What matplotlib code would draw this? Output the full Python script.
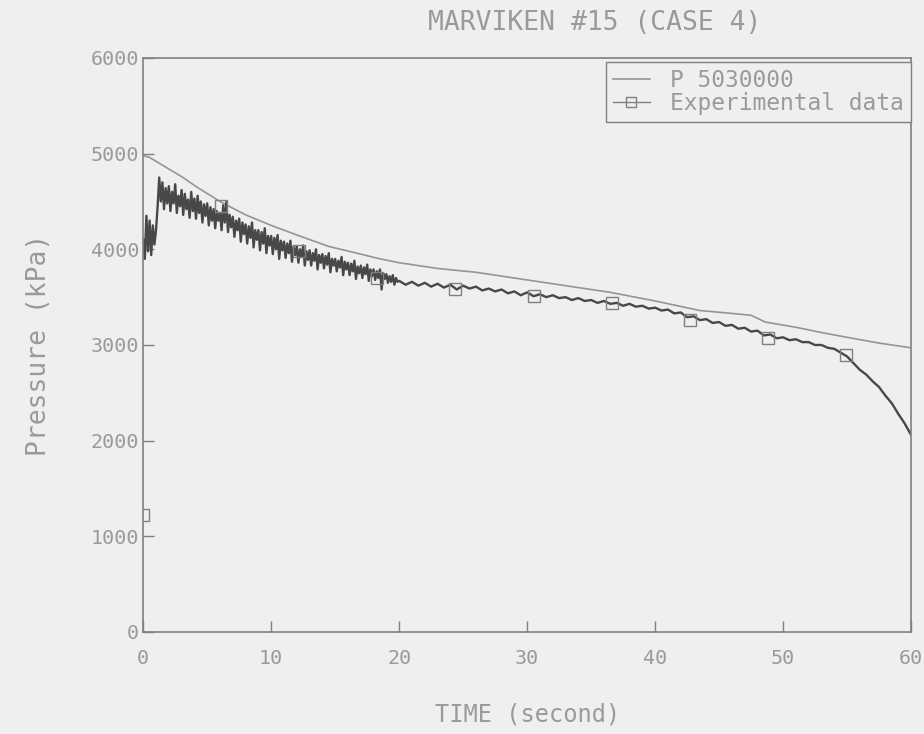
import numpy as np
import matplotlib
matplotlib.use("Agg")
import matplotlib.pyplot as plt
from matplotlib.lines import Line2D

# --- simulation (P 5030000) ---
t_sim = [0, 0.5, 1.5, 3, 4.2, 6, 8, 10, 12, 14.5, 17, 18.5, 20, 23, 26, 29,
         32.5, 36.5, 40, 43.5, 46, 47.5, 48.6, 51, 53, 55, 57.5, 60]
p_sim = [4980, 4960, 4880, 4760, 4650, 4500, 4360, 4250, 4150, 4030, 3950,
         3900, 3860, 3800, 3760, 3700, 3630, 3550, 3460, 3360, 3330, 3310,
         3240, 3185, 3130, 3080, 3020, 2970]

# --- experimental trace: 0.125 s samples up to 20 s (one row per second) ---
t_exp_a = np.arange(0, 20, 0.125)
p_exp_a = [4100, 3900, 4350, 3980, 4300, 3940, 4250, 4050,
           4200, 4450, 4750, 4500, 4700, 4420, 4640, 4480,
           4660, 4400, 4600, 4480, 4680, 4380, 4560, 4450,
           4620, 4360, 4580, 4420, 4520, 4330, 4600, 4400,
           4530, 4320, 4560, 4380, 4500, 4280, 4470, 4350,
           4480, 4250, 4440, 4300, 4420, 4220, 4400, 4300,
           4380, 4200, 4460, 4280, 4500, 4180, 4360, 4230,
           4340, 4130, 4300, 4200, 4320, 4080, 4280, 4160,
           4260, 4060, 4240, 4120, 4280, 4020, 4200, 4100,
           4200, 3990, 4180, 4060, 4220, 3960, 4140, 4040,
           4140, 3950, 4120, 4000, 4150, 3900, 4090, 3990,
           4080, 3910, 4060, 3960, 4090, 3870, 4030, 3940,
           4030, 3860, 4000, 3920, 4040, 3830, 3980, 3890,
           3990, 3830, 3960, 3880, 4000, 3790, 3940, 3860,
           3950, 3800, 3930, 3840, 3960, 3760, 3900, 3830,
           3900, 3770, 3880, 3810, 3920, 3730, 3870, 3790,
           3860, 3730, 3850, 3770, 3880, 3690, 3820, 3750,
           3830, 3700, 3810, 3740, 3840, 3670, 3790, 3720,
           3790, 3680, 3770, 3700, 3790, 3580, 3750, 3690,
           3740, 3650, 3720, 3660, 3730, 3630, 3700, 3660]
# 0.5 s samples from 20 s to 60 s
t_exp_b = np.arange(20, 60.01, 0.5)
p_exp_b = [3670, 3630, 3660, 3620, 3650, 3610, 3640, 3600, 3630, 3580,
           3620, 3590, 3610, 3570, 3590, 3560, 3580, 3540, 3560, 3520,
           3550, 3510, 3530, 3500, 3520, 3490, 3500, 3470, 3490, 3460,
           3470, 3440, 3460, 3430, 3440, 3410, 3430, 3400, 3410, 3380,
           3390, 3360, 3370, 3330, 3340, 3290, 3300, 3260, 3270, 3230,
           3240, 3200, 3210, 3170, 3180, 3140, 3150, 3100, 3110, 3070,
           3080, 3050, 3060, 3030, 3030, 3000, 3000, 2970, 2960, 2920,
           2880, 2810, 2740, 2690, 2620, 2560, 2470, 2390, 2280, 2180,
           2060]

# square markers on the experimental data
t_mark = [0, 6.1, 12.2, 18.3, 24.4, 30.5, 36.6, 42.7, 48.8, 54.9]
p_mark = [1220, 4450, 3980, 3700, 3580, 3510, 3440, 3260, 3070, 2900]

x_ticks = [0, 10, 20, 30, 40, 50, 60]
y_ticks = [0, 1000, 2000, 3000, 4000, 5000, 6000]

bg = "#efefef"
txt = "#9a9a9a"
font = "DejaVu Sans Mono"

fig = plt.figure(figsize=(9.24, 7.34), dpi=100, facecolor=bg)
ax = fig.add_axes([0.155, 0.139, 0.831, 0.782], facecolor=bg)

t_exp = np.concatenate([t_exp_a, t_exp_b])
p_exp = np.concatenate([p_exp_a, p_exp_b])

ax.plot(t_sim, p_sim, color="#959595", lw=1.2)
ax.plot(t_exp, p_exp, color="#484848", lw=1.7)
ax.plot(t_mark, p_mark, ls="none", marker="s", ms=8, mfc="none",
        mec="#808080", mew=1.0)

ax.set_xlim(0, 60)
ax.set_ylim(0, 6000)
ax.set_xticks(x_ticks)
ax.set_yticks(y_ticks)
ax.tick_params(direction="in", length=8, color="#808080", width=1,
               labelcolor=txt, labelsize=14.5)
ax.tick_params(axis="x", pad=12)
ax.tick_params(axis="y", pad=3)
for lab in ax.get_xticklabels() + ax.get_yticklabels():
    lab.set_family(font)
for s in ax.spines.values():
    s.set_color("#808080")
    s.set_linewidth(1.2)

ax.set_xlabel("TIME (second)", color=txt, fontsize=17, family=font, labelpad=25)
ax.set_ylabel("Pressure (kPa)", color=txt, fontsize=19, family=font, labelpad=28)
fig.text(0.644, 0.968, "MARVIKEN #15 (CASE 4)", color=txt, fontsize=19,
         family=font, ha="center", va="center")

handles = [Line2D([], [], color="#959595", lw=1.2),
           Line2D([], [], color="#808080", lw=1.0, marker="s", ms=7,
                  mfc="none", mec="#808080")]
leg = ax.legend(handles, ["P 5030000", "Experimental data"], loc="upper right",
                bbox_to_anchor=(1.0, 0.993), borderaxespad=0, fancybox=False,
                framealpha=1, facecolor=bg, edgecolor="#808080",
                handlelength=1.6, handletextpad=0.9, borderpad=0.3,
                labelspacing=0.0, prop={"family": font, "size": 16.5})
for t in leg.get_texts():
    t.set_color(txt)

fig.savefig("out.png", dpi=100, facecolor=bg)
